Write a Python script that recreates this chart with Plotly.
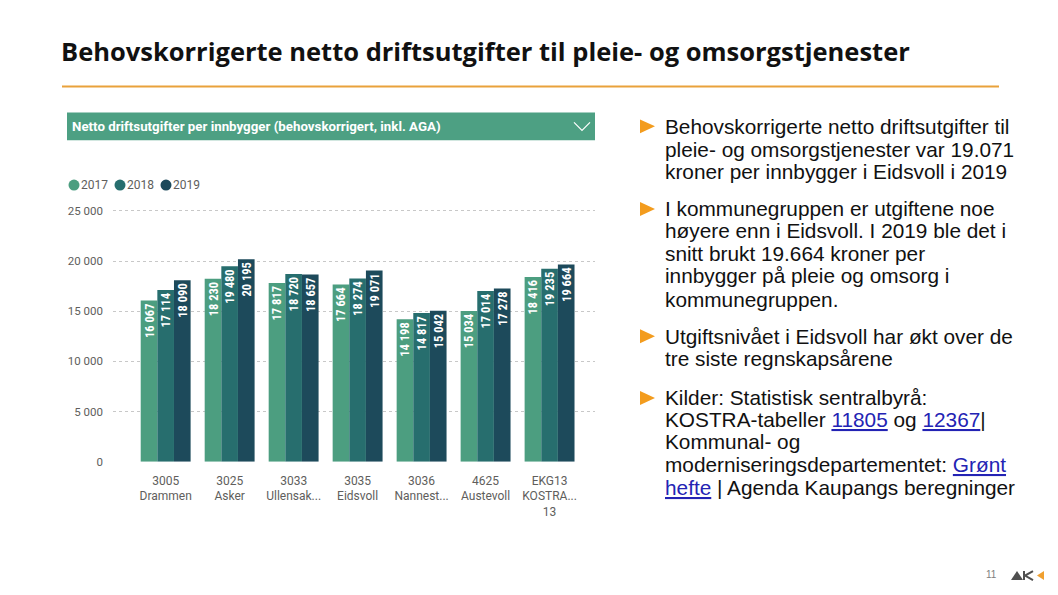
import plotly.graph_objects as go

W, H = 1058, 595          # reference coordinate space
FIG_H = 602               # rendered height (viewport is captured slightly taller than 595)

categories = ["3005<br>Drammen", "3025<br>Asker", "3033<br>Ullensak...", "3035<br>Eidsvoll",
              "3036<br>Nannest...", "4625<br>Austevoll", "EKG13<br>KOSTRA...<br>13"]
years = ["2017", "2018", "2019"]
v2017 = [16067, 18230, 17817, 17664, 14198, 15034, 18416]
v2018 = [17114, 19480, 18720, 18274, 14817, 17014, 19235]
v2019 = [18090, 20195, 18657, 19071, 15042, 17278, 19664]
y_ticks = [0, 5000, 10000, 15000, 20000, 25000]
colors = ["#4C9E80", "#276E6E", "#1D4A5B"]

def px(x):
    return x / W

def py(y):
    return 1 - y / H

fig = go.Figure()
for name, vals, col in zip(years, [v2017, v2018, v2019], colors):
    fig.add_trace(go.Bar(
        x=categories, y=vals, name=name, marker=dict(color=col, line=dict(width=0)),
        text=[f"{v:,}".replace(",", " ") for v in vals],
        textposition="inside", insidetextanchor="end", textangle=-90,
        textfont=dict(color="white", size=12.5, weight="bold",
                      family="Roboto Condensed, Roboto, DejaVu Sans"),
        constraintext="none", showlegend=False, hoverinfo="x+y"))

fig.update_layout(
    width=W, height=FIG_H, margin=dict(l=0, r=0, t=0, b=0),
    paper_bgcolor="white", plot_bgcolor="white",
    barmode="group", bargap=0.22, bargroupgap=0,
    separators=", ",
    font=dict(family="Roboto, DejaVu Sans", color="#605E5C"),
    xaxis=dict(domain=[px(113), px(595)], range=[-0.823, 6.71], showgrid=False,
               showline=False, zeroline=False, ticks="", tickfont=dict(size=12, color="#605E5C"),
               ticklabelstandoff=10),
    yaxis=dict(domain=[py(461), py(205)], range=[0, 25000 * 256 / 252], tickvals=y_ticks,
               tickformat=",d", showgrid=True, gridcolor="#C8C8C8", griddash="dot", gridwidth=1,
               zeroline=False, showline=False, ticks="", tickfont=dict(size=11.5, color="#605E5C"),
               ticklabelstandoff=9),
)

shapes = []
annotations = []

# title and orange rule
annotations.append(dict(x=px(59), y=py(48), xref="paper", yref="paper", xanchor="left", yanchor="middle",
                        text="<b>Behovskorrigerte netto driftsutgifter til pleie- og omsorgstjenester</b>",
                        showarrow=False, font=dict(family="Open Sans, Lato, Liberation Sans", size=25.5, color="#111111")))
shapes.append(dict(type="line", xref="paper", yref="paper", x0=px(62), x1=px(999), y0=py(84), y1=py(84),
                   line=dict(color="#E9A23B", width=2)))

# green header bar
shapes.append(dict(type="rect", xref="paper", yref="paper", x0=px(67), x1=px(595), y0=py(138), y1=py(110),
                   fillcolor="#4DA083", line=dict(width=0), layer="below"))
annotations.append(dict(x=px(70), y=py(124), xref="paper", yref="paper", xanchor="left", yanchor="middle",
                        text="<b>Netto driftsutgifter per innbygger (behovskorrigert, inkl. AGA)</b>",
                        showarrow=False, font=dict(family="Roboto, DejaVu Sans", size=13.3, color="white")))
shapes.append(dict(type="path", xref="paper", yref="paper",
                   path=f"M {px(574)},{py(120)} L {px(582)},{py(128)} L {px(590)},{py(120)}",
                   line=dict(color="white", width=1.2)))

# legend (circles + labels)
leg_x = [74, 120, 166]
for lx, name, col in zip(leg_x, years, colors):
    shapes.append(dict(type="circle", xref="paper", yref="paper", xsizemode="pixel", ysizemode="pixel",
                       xanchor=px(lx), yanchor=py(183), x0=-5.5, x1=5.5, y0=-5.5, y1=5.5,
                       fillcolor=col, line=dict(width=0)))
    annotations.append(dict(x=px(lx + 5), y=py(183), xref="paper", yref="paper", xanchor="left", yanchor="middle",
                            text=name, showarrow=False, font=dict(size=12, color="#605E5C")))

# right-hand text
LINK = "#2323B4"
def link(t):
    return f'<span style="text-decoration:underline;color:{LINK}">{t}</span>'

bullets = [
    ([124, 147, 169], ["Behovskorrigerte netto driftsutgifter til",
                       "pleie- og omsorgstjenester var 19.071",
                       "kroner per innbygger i Eidsvoll i 2019"]),
    ([207, 229, 252, 274, 298], ["I kommunegruppen er utgiftene noe",
                                 "høyere enn i Eidsvoll. I 2019 ble det i",
                                 "snitt brukt 19.664 kroner per",
                                 "innbygger på pleie og omsorg i",
                                 "kommunegruppen."]),
    ([335, 357], ["Utgiftsnivået i Eidsvoll har økt over de",
                  "tre siste regnskapsårene"]),
    ([397, 419, 441, 464, 487], ["Kilder: Statistisk sentralbyrå:",
                                 f"KOSTRA-tabeller {link('11805')} og {link('12367')}|",
                                 "Kommunal- og",
                                 f"moderniseringsdepartementet: {link('Grønt')}",
                                 f"{link('hefte')} | Agenda Kaupangs beregninger"]),
]
for ys, lines in bullets:
    y0 = ys[0]
    shapes.append(dict(type="path", xref="paper", yref="paper",
                       path=f"M {px(640)},{py(y0-7)} L {px(655)},{py(y0)} L {px(640)},{py(y0+7)} Z",
                       fillcolor="#F39C1E", line=dict(width=0)))
    for yy, t in zip(ys, lines):
        annotations.append(dict(x=px(663), y=py(yy), xref="paper", yref="paper", xanchor="left", yanchor="middle",
                                text=t, showarrow=False,
                                font=dict(family="Liberation Sans, Arial", size=20.8, color="#111111")))

# page number and logo
annotations.append(dict(x=px(991), y=py(574), xref="paper", yref="paper", xanchor="center", yanchor="middle",
                        text="11", showarrow=False, font=dict(family="Liberation Sans", size=10, color="#808080")))
shapes.append(dict(type="path", xref="paper", yref="paper",
                   path=f"M {px(1011)},{py(580)} L {px(1017)},{py(571)} L {px(1023)},{py(580)} Z",
                   fillcolor="#505050", line=dict(width=0)))
shapes.append(dict(type="path", xref="paper", yref="paper",
                   path=f"M {px(1024)},{py(571)} L {px(1024)},{py(580)} M {px(1033)},{py(571)} L {px(1025)},{py(575.5)} L {px(1033)},{py(580)}",
                   line=dict(color="#505050", width=2)))
shapes.append(dict(type="path", xref="paper", yref="paper",
                   path=f"M {px(1044)},{py(571)} L {px(1037)},{py(575.5)} L {px(1044)},{py(580)} Z",
                   fillcolor="#F0A030", line=dict(width=0)))

fig.update_layout(shapes=shapes, annotations=annotations)
fig.write_html(
    "out.html",
    config={"displayModeBar": False},
    post_script=["document.documentElement.style.margin='0';"
                 "document.documentElement.style.overflow='hidden';"
                 "document.body.style.margin='0';"
                 "document.body.style.overflow='hidden';"],
)
